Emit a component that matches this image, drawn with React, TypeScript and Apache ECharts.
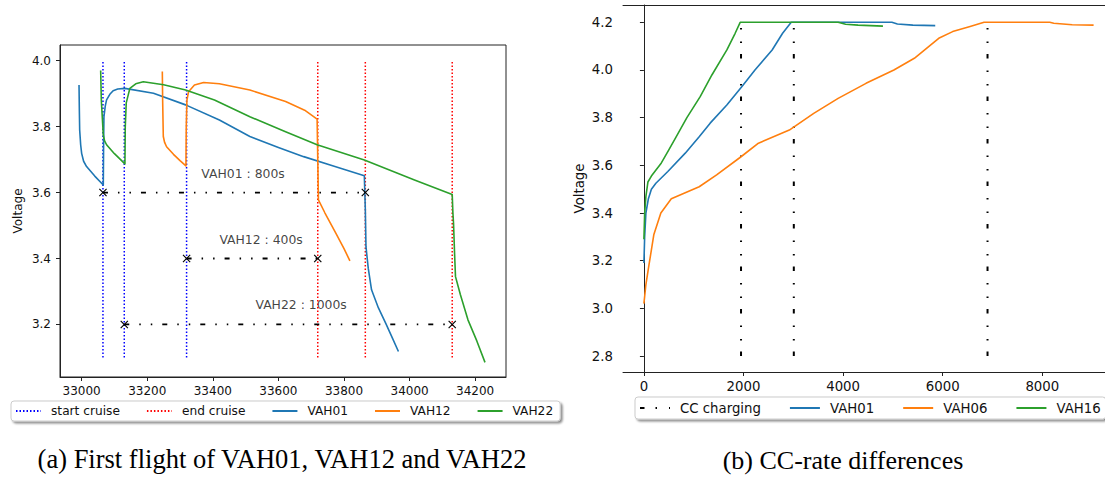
import React, { useEffect, useRef } from 'react';
import * as echarts from 'echarts';

// ---------- (a) First flight ----------
const startCruise = [33065, 33130, 33320];
const endCruise = [33720, 33865, 34130];
const cruiseLineSpan = [3.1, 4.0];

const vah01Flight: number[][] = [
  [32992, 3.926], [32993, 3.85], [32994, 3.79], [32997, 3.745], [33000, 3.719], [33006, 3.695],
  [33015, 3.679], [33040, 3.65], [33066, 3.623], [33067, 3.75], [33068, 3.83], [33072, 3.862],
  [33076, 3.881], [33086, 3.898], [33096, 3.909], [33110, 3.914], [33132, 3.916], [33219, 3.901],
  [33317, 3.866], [33420, 3.82], [33513, 3.77], [33600, 3.737], [33677, 3.709], [33770, 3.68],
  [33862, 3.651], [33865, 3.55], [33867, 3.436], [33874, 3.37], [33884, 3.305], [33905, 3.25],
  [33927, 3.204], [33947, 3.16], [33966, 3.118],
];
const vah12Flight: number[][] = [
  [33246, 3.967], [33247, 3.88], [33249, 3.77], [33253, 3.752], [33259, 3.739], [33280, 3.716],
  [33300, 3.697], [33318, 3.681], [33319, 3.8], [33321, 3.88], [33326, 3.906], [33344, 3.926],
  [33372, 3.934], [33420, 3.93], [33513, 3.911], [33622, 3.876], [33680, 3.85], [33718, 3.823],
  [33720, 3.7], [33722, 3.578], [33742, 3.538], [33775, 3.477], [33800, 3.43], [33818, 3.393],
];
const vah22Flight: number[][] = [
  [33058, 3.97], [33060, 3.88], [33066, 3.775], [33070, 3.757], [33076, 3.745], [33100, 3.718],
  [33132, 3.687], [33133, 3.8], [33136, 3.872], [33147, 3.916], [33165, 3.93], [33188, 3.936],
  [33250, 3.927], [33317, 3.911], [33405, 3.881], [33513, 3.83], [33620, 3.785], [33718, 3.745],
  [33862, 3.699], [34015, 3.638], [34130, 3.594], [34132, 3.54], [34134, 3.507], [34137, 3.42],
  [34140, 3.345], [34155, 3.29], [34178, 3.214], [34205, 3.15], [34230, 3.085],
];

const spanLabels = ['VAH01 : 800s', 'VAH12 : 400s', 'VAH22 : 1000s'];
const spanFrom = [33065, 33320, 33130];
const spanTo = [33865, 33720, 34130];
const spanLevel = [3.6, 3.4, 3.2];
const spanLabelX = [33365, 33420, 33530];
const spanLabelY = [3.65, 3.45, 3.25];

const leftXTicks = [33000, 33200, 33400, 33600, 33800, 34000, 34200];
const leftYTicks = [3.2, 3.4, 3.6, 3.8, 4.0];

// ---------- (b) CC-rate differences ----------
const ccEnds = [1950, 3010, 6900];
const ccLineSpan = [2.8, 4.2];

const vah01Charge: number[][] = [
  [0, 3.19], [15, 3.3], [40, 3.4], [90, 3.46], [150, 3.5], [240, 3.525], [480, 3.574], [830, 3.651],
  [1110, 3.72], [1330, 3.777], [1665, 3.853], [1965, 3.93], [2230, 4.0], [2575, 4.084], [2785, 4.154],
  [2958, 4.2], [4980, 4.2], [5090, 4.193], [5400, 4.188], [5850, 4.186],
];
const vah06Charge: number[][] = [
  [0, 3.02], [40, 3.1], [100, 3.18], [200, 3.31], [340, 3.4], [550, 3.46], [1110, 3.51], [1460, 3.56],
  [1950, 3.636], [2300, 3.693], [2920, 3.748], [3410, 3.818], [3900, 3.881], [4460, 3.944], [5020, 4.0],
  [5430, 4.049], [5920, 4.133], [6200, 4.161], [6550, 4.182], [6830, 4.2], [8150, 4.2], [8230, 4.196],
  [8600, 4.19], [9030, 4.188],
];
const vah16Charge: number[][] = [
  [0, 3.29], [15, 3.4], [40, 3.47], [80, 3.53], [150, 3.555], [350, 3.61], [500, 3.665], [650, 3.72],
  [863, 3.8], [1130, 3.888], [1365, 3.979], [1666, 4.084], [1832, 4.154], [1933, 4.2], [3900, 4.2],
  [4050, 4.192], [4300, 4.188], [4800, 4.184],
];

const rightXTicks = [0, 2000, 4000, 6000, 8000];
const rightYTicks = [2.8, 3.0, 3.2, 3.4, 3.6, 3.8, 4.0, 4.2];

// ---------- styling ----------
const FONT = 'DejaVu Sans';
const SERIF = 'Liberation Serif';
const AX = '#222';
const TXT = '#111';
const BLUE = '#1f77b4';
const ORANGE = '#ff7f0e';
const GREEN = '#2ca02c';
const X_MARK = 'path://M0,1L1,0L5,4L9,0L10,1L6,5L10,9L9,10L5,6L1,10L0,9L4,5Z';
const DASHDOT = [5, 10, 1.5, 10, 1.5, 10];

function curve(name: string, data: number[][], color: string, gi: number) {
  return {
    type: 'line', name, data, xAxisIndex: gi, yAxisIndex: gi, symbol: 'none', silent: true,
    itemStyle: { color }, lineStyle: { color, width: 1.6, join: 'round' },
  };
}

function buildOption() {
  const series: any[] = [];
  startCruise.forEach((x) => series.push({
    type: 'line', name: 'start cruise', xAxisIndex: 0, yAxisIndex: 0, symbol: 'none', silent: true,
    data: cruiseLineSpan.map((y) => [x, y]),
    itemStyle: { color: '#0000ff' }, lineStyle: { color: '#0000ff', width: 1.5, type: [1.5, 2] },
  }));
  endCruise.forEach((x) => series.push({
    type: 'line', name: 'end cruise', xAxisIndex: 0, yAxisIndex: 0, symbol: 'none', silent: true,
    data: cruiseLineSpan.map((y) => [x, y]),
    itemStyle: { color: '#ff0000' }, lineStyle: { color: '#ff0000', width: 1.5, type: [1.5, 2] },
  }));
  series.push(curve('VAH01', vah01Flight, BLUE, 0));
  series.push(curve('VAH12', vah12Flight, ORANGE, 0));
  series.push(curve('VAH22', vah22Flight, GREEN, 0));
  spanLabels.forEach((_, i) => series.push({
    type: 'line', name: '_span' + i, xAxisIndex: 0, yAxisIndex: 0, silent: true,
    data: [[spanFrom[i], spanLevel[i]], [spanTo[i], spanLevel[i]]],
    symbol: X_MARK, symbolSize: 8, showSymbol: true,
    itemStyle: { color: '#000' }, lineStyle: { color: '#000', width: 1.8, type: DASHDOT },
  }));
  series.push({
    type: 'scatter', name: '_labels', xAxisIndex: 0, yAxisIndex: 0, silent: true, symbolSize: 0,
    data: spanLabels.map((t, i) => ({ name: t, value: [spanLabelX[i], spanLabelY[i]] })),
    label: {
      show: true, formatter: '{b}', position: 'right', distance: 0, verticalAlign: 'bottom',
      fontFamily: FONT, fontSize: 12.4, color: TXT, offset: [0, 3],
    },
  });

  ccEnds.forEach((x) => series.push({
    type: 'line', name: 'CC charging', xAxisIndex: 1, yAxisIndex: 1, symbol: 'none', silent: true,
    data: ccLineSpan.map((y) => [x, y]),
    itemStyle: { color: '#000' }, lineStyle: { color: '#000', width: 2, type: [4.5, 11, 1.5, 12, 1.5, 12] },
  }));
  series.push(curve('VAH01', vah01Charge, BLUE, 1));
  series.push(curve('VAH06', vah06Charge, ORANGE, 1));
  series.push(curve('VAH16', vah16Charge, GREEN, 1));

  const axisLine = { show: true, lineStyle: { color: AX, width: 1 } };
  const tickStyle = { color: AX, width: 1 };
  const plain = (v: number) => String(v);

  const legendBase = {
    orient: 'horizontal', selectedMode: false, itemHeight: 14, width: 700,
    borderColor: '#cccccc', borderWidth: 1, borderRadius: 3, backgroundColor: '#fff',
    shadowBlur: 2, shadowColor: 'rgba(0,0,0,0.45)', shadowOffsetX: 2, shadowOffsetY: 2,
    itemStyle: { opacity: 0 },
  };

  return {
    animation: false,
    backgroundColor: '#fff',
    grid: [
      { left: 60, top: 45, width: 446, height: 332, show: true, borderColor: AX, borderWidth: 1, backgroundColor: 'transparent' },
      { left: 623, top: 5, width: 482, height: 367 },
    ],
    xAxis: [
      {
        gridIndex: 0, type: 'value', min: 32934, max: 34294, splitLine: { show: false }, axisLine,
        axisTick: { show: true, length: 4, customValues: leftXTicks, lineStyle: tickStyle },
        axisLabel: { customValues: leftXTicks, fontFamily: FONT, fontSize: 12, color: TXT, margin: 8, formatter: plain },
      },
      {
        gridIndex: 1, type: 'value', min: -420, max: 9259, splitLine: { show: false }, axisLine,
        axisTick: { show: true, length: 4, customValues: rightXTicks, lineStyle: tickStyle },
        axisLabel: { customValues: rightXTicks, fontFamily: FONT, fontSize: 13.3, color: TXT, margin: 8, formatter: plain },
      },
      {
        gridIndex: 1, type: 'value', position: 'top', min: -420, max: 9259, splitLine: { show: false },
        axisLine, axisTick: { show: false }, axisLabel: { show: false },
      },
    ],
    yAxis: [
      {
        gridIndex: 0, type: 'value', min: 3.0406, max: 4.0476, splitLine: { show: false }, axisLine,
        axisTick: { show: true, length: 4, customValues: leftYTicks, lineStyle: tickStyle },
        axisLabel: {
          customValues: leftYTicks, fontFamily: FONT, fontSize: 12, color: TXT, margin: 9,
          formatter: (v: number) => v.toFixed(1),
        },
        name: 'Voltage', nameLocation: 'middle', nameGap: 36,
        nameTextStyle: { fontFamily: FONT, fontSize: 12, color: TXT },
      },
      {
        gridIndex: 1, type: 'value', min: 2.733, max: 4.2726, splitLine: { show: false }, axisLine,
        axisTick: { show: true, length: 4, customValues: rightYTicks, lineStyle: tickStyle },
        axisLabel: {
          customValues: rightYTicks, fontFamily: FONT, fontSize: 13.3, color: TXT, margin: 10,
          formatter: (v: number) => v.toFixed(1),
        },
        name: 'Voltage', nameLocation: 'middle', nameGap: 37,
        nameTextStyle: { fontFamily: FONT, fontSize: 13.3, color: TXT },
      },
    ],
    legend: [
      {
        ...legendBase,
        data: ['start cruise', 'end cruise', 'VAH01', 'VAH12', 'VAH22'],
        left: 11, top: 401, itemWidth: 25, itemGap: 26, padding: [4, 7, 4, 4],
        textStyle: { fontFamily: FONT, fontSize: 12.2, color: TXT, padding: [0, 0, 0, 5] },
      },
      {
        ...legendBase,
        data: ['CC charging', 'VAH01', 'VAH06', 'VAH16'],
        left: 635, top: 397, itemWidth: 30, itemGap: 28, padding: [4.5, 5, 4.5, 4],
        textStyle: { fontFamily: FONT, fontSize: 13.3, color: TXT, padding: [0, 0, 0, 5] },
      },
    ],
    graphic: [
      {
        type: 'text', x: 282, y: 459,
        style: {
          text: '(a) First flight of VAH01, VAH12 and VAH22', x: 0, y: 0,
          font: `26.5px "${SERIF}"`, fill: '#000', textAlign: 'center', textVerticalAlign: 'middle',
          align: 'center', verticalAlign: 'middle',
        },
      },
      {
        type: 'text', x: 843, y: 460,
        style: {
          text: '(b) CC-rate differences', x: 0, y: 0,
          font: `26px "${SERIF}"`, fill: '#000', textAlign: 'center', textVerticalAlign: 'middle',
          align: 'center', verticalAlign: 'middle',
        },
      },
    ],
    series,
  };
}

export default function App() {
  const ref = useRef<HTMLDivElement>(null);
  useEffect(() => {
    const chart = echarts.init(ref.current!, null, { renderer: 'svg' });
    chart.setOption(buildOption() as any);
    return () => chart.dispose();
  }, []);
  return (
    <div
      ref={ref}
      style={{ position: 'fixed', left: 0, top: 0, width: 1105, height: 477, background: '#fff' }}
    />
  );
}
